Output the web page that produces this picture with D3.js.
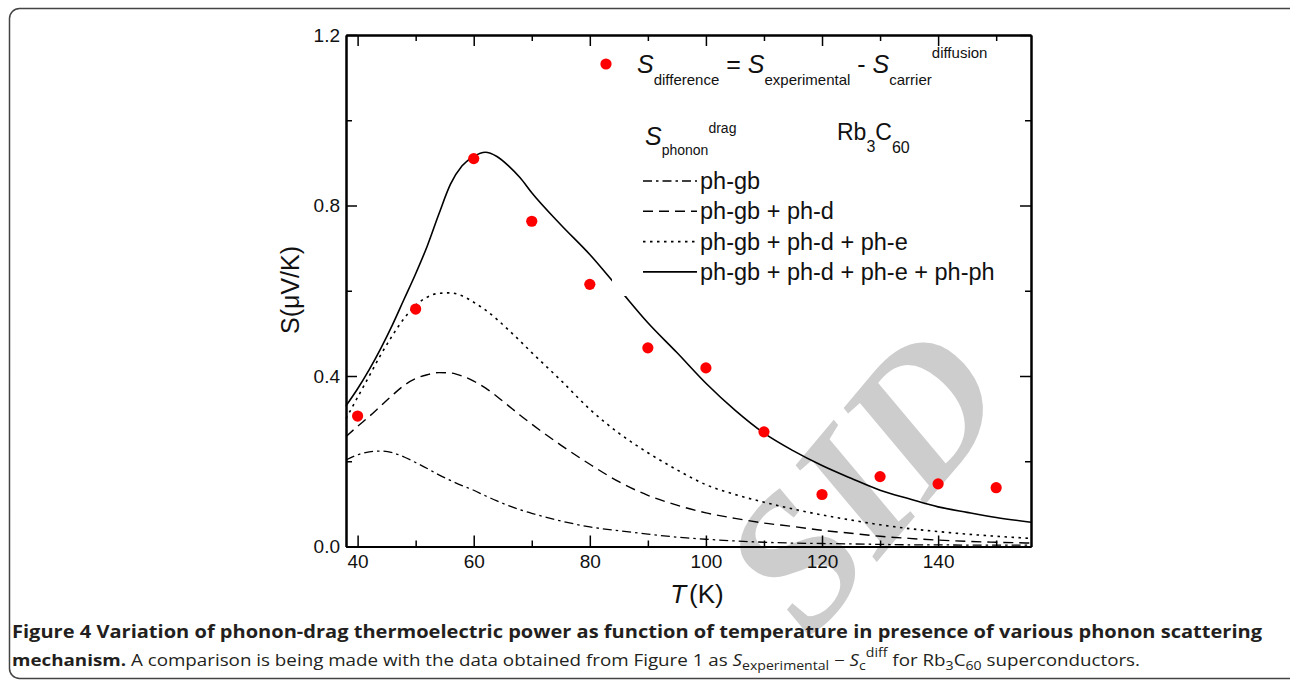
<!DOCTYPE html>
<html>
<head>
<meta charset="utf-8">
<script src="https://cdn.jsdelivr.net/npm/d3@7"></script>
<style>
  body { margin: 0; background: #fff; }
  svg { display: block; font-family: "Liberation Sans", Arial, sans-serif; }
  .axis path, .axis line { stroke: #000; }
  .axis path { stroke-width: 2; }
  .axis line { stroke-width: 1.5; }
  .axis text { font-size: 19px; fill: #111; font-family: "Liberation Sans", Arial, sans-serif; }
</style>
</head>
<body>
<div id="chart"></div>
<script>
// measured points, S_difference (uV/K)
const tempK = [40, 50, 60, 70, 80, 90, 100, 110, 120, 130, 140, 150]
const sDifference = [0.306, 0.557, 0.910, 0.763, 0.615, 0.466, 0.419, 0.269, 0.122, 0.164, 0.147, 0.138]

// curves
const curveT = [38, 40, 42, 44, 46, 48, 50, 52, 54, 56, 58, 60, 62, 64, 66, 68, 70, 75, 80, 85, 90, 95, 100, 105, 110, 115, 120, 125, 130, 135, 140, 145, 150, 156]
const phGb = [0.203, 0.215, 0.222, 0.224, 0.220, 0.210, 0.197, 0.183, 0.168, 0.155, 0.143, 0.132, 0.119, 0.107, 0.096, 0.086, 0.078, 0.060, 0.046, 0.037, 0.029, 0.022, 0.017, 0.013, 0.010, 0.008, 0.007, 0.006, 0.005, 0.004, 0.004, 0.003, 0.003, 0.003]
const phGbD = [0.258, 0.282, 0.305, 0.330, 0.355, 0.378, 0.394, 0.403, 0.408, 0.407, 0.400, 0.388, 0.372, 0.352, 0.330, 0.308, 0.287, 0.238, 0.193, 0.152, 0.120, 0.097, 0.079, 0.066, 0.055, 0.047, 0.038, 0.031, 0.024, 0.019, 0.015, 0.012, 0.010, 0.008]
const phGbDE = [0.300, 0.350, 0.400, 0.450, 0.495, 0.535, 0.566, 0.585, 0.594, 0.595, 0.588, 0.573, 0.555, 0.533, 0.508, 0.482, 0.455, 0.390, 0.322, 0.266, 0.220, 0.180, 0.145, 0.122, 0.104, 0.088, 0.074, 0.062, 0.051, 0.042, 0.035, 0.029, 0.024, 0.019]
const phGbDEPh = [0.330, 0.370, 0.415, 0.465, 0.520, 0.580, 0.640, 0.705, 0.780, 0.850, 0.893, 0.915, 0.925, 0.915, 0.893, 0.865, 0.830, 0.755, 0.685, 0.605, 0.525, 0.455, 0.383, 0.320, 0.266, 0.225, 0.190, 0.160, 0.132, 0.112, 0.093, 0.080, 0.068, 0.057]

const xTicks = [40, 60, 80, 100, 120, 140]
const xMinor = [50, 70, 90, 110, 130, 150]
const yTicks = [0, 0.4, 0.8, 1.2]
const yMinor = [0.2, 0.6, 1.0]
const legendLabels = ['ph-gb', 'ph-gb + ph-d', 'ph-gb + ph-d + ph-e', 'ph-gb + ph-d + ph-e + ph-ph']

const w = 1290
const h = 683
const pLeft = 346, pRight = 1031, pTop = 35, pBottom = 546.5

const series = [
  { vals: phGb, dash: '9,4,2.5,4', width: 1.3 },
  { vals: phGbD, dash: '10,6', width: 1.4 },
  { vals: phGbDE, dash: '2.5,4.5', width: 1.6 },
  { vals: phGbDEPh, dash: null, width: 1.6 }
]

const xScale = d3.scaleLinear().domain([38, 156]).range([pLeft, pRight])
const yScale = d3.scaleLinear().domain([0, 1.2]).range([pBottom, pTop])

const svg = d3.select('#chart').append('svg')
              .attr('width', w)
              .attr('height', h)

// watermark behind everything
svg.append('text')
   .attr('transform', 'translate(912,520) rotate(-50)')
   .attr('text-anchor', 'middle')
   .style('font-family', '"Liberation Serif", "DejaVu Serif", serif')
   .style('font-style', 'italic')
   .style('font-weight', 'bold')
   .style('font-size', '190px')
   .style('fill', '#cdcdcd')
   .text('SID')

// frame
svg.append('rect')
   .attr('x', 9.5).attr('y', 8.5)
   .attr('width', 1300).attr('height', 670)
   .attr('rx', 10)
   .attr('fill', 'none')
   .attr('stroke', '#444')
   .attr('stroke-width', 1.5)

const line = d3.line()
               .x((d, i) => xScale(curveT[i]))
               .y(d => yScale(d))
               .curve(d3.curveMonotoneX)

svg.append('g')
   .selectAll('path')
   .data(series)
   .enter()
   .append('path')
   .attr('d', d => line(d.vals))
   .attr('fill', 'none')
   .attr('stroke', '#000')
   .attr('stroke-width', d => d.width)
   .attr('stroke-dasharray', d => d.dash)

// white legend box cuts the solid curve
svg.append('rect')
   .attr('x', 612).attr('y', 150)
   .attr('width', 395).attr('height', 146)
   .attr('fill', '#fff')

svg.selectAll('circle.pt')
   .data(tempK)
   .enter()
   .append('circle')
   .attr('class', 'pt')
   .attr('cx', d => xScale(d))
   .attr('cy', (d, i) => yScale(sDifference[i]))
   .attr('r', 5.6)
   .attr('fill', '#ff0000')

// axes, ticks pointing inward
const fmtY = d3.format('.1f')
svg.append('g').attr('class', 'axis')
   .attr('transform', 'translate(0,' + pBottom + ')')
   .call(d3.axisBottom(xScale).tickValues(xTicks).tickSize(-11).tickSizeOuter(0).tickPadding(8))
svg.append('g').attr('class', 'axis')
   .attr('transform', 'translate(0,' + pBottom + ')')
   .call(d3.axisBottom(xScale).tickValues(xMinor).tickSize(-6).tickSizeOuter(0).tickFormat(''))
svg.append('g').attr('class', 'axis')
   .attr('transform', 'translate(0,' + pTop + ')')
   .call(d3.axisTop(xScale).tickValues(xTicks).tickSize(-11).tickSizeOuter(0).tickFormat(''))
svg.append('g').attr('class', 'axis')
   .attr('transform', 'translate(0,' + pTop + ')')
   .call(d3.axisTop(xScale).tickValues(xMinor).tickSize(-6).tickSizeOuter(0).tickFormat(''))
svg.append('g').attr('class', 'axis')
   .attr('transform', 'translate(' + pLeft + ',0)')
   .call(d3.axisLeft(yScale).tickValues(yTicks).tickSize(-11).tickSizeOuter(0).tickPadding(6).tickFormat(fmtY))
svg.append('g').attr('class', 'axis')
   .attr('transform', 'translate(' + pLeft + ',0)')
   .call(d3.axisLeft(yScale).tickValues(yMinor).tickSize(-6).tickSizeOuter(0).tickFormat(''))
svg.append('g').attr('class', 'axis')
   .attr('transform', 'translate(' + pRight + ',0)')
   .call(d3.axisRight(yScale).tickValues(yTicks).tickSize(-11).tickSizeOuter(0).tickFormat(''))
svg.append('g').attr('class', 'axis')
   .attr('transform', 'translate(' + pRight + ',0)')
   .call(d3.axisRight(yScale).tickValues(yMinor).tickSize(-6).tickSizeOuter(0).tickFormat(''))

// axis titles
const xt = svg.append('text')
   .attr('x', 697).attr('y', 603)
   .attr('text-anchor', 'middle')
   .style('font-size', '26px')
   .style('fill', '#111')
xt.append('tspan').style('font-style', 'italic').text('T')
xt.append('tspan').attr('dx', 3).text('(K)')

svg.append('text')
   .attr('transform', 'translate(299,290) rotate(-90)')
   .attr('text-anchor', 'middle')
   .style('font-size', '25px')
   .style('fill', '#111')
   .text('S(\u03bcV/K)')

// legend
svg.append('circle')
   .attr('cx', 606).attr('cy', 64).attr('r', 5.6)
   .attr('fill', '#ff0000')

const l1 = svg.append('text').attr('x', 637).attr('y', 73).style('fill', '#111')
l1.append('tspan').style('font-style', 'italic').style('font-size', '25px').text('S')
l1.append('tspan').attr('dy', 12).style('font-size', '15px').text('difference')
l1.append('tspan').attr('dy', -12).style('font-size', '25px').text(' = ')
l1.append('tspan').style('font-style', 'italic').style('font-size', '25px').text('S')
l1.append('tspan').attr('dy', 12).style('font-size', '15px').text('experimental')
l1.append('tspan').attr('dy', -12).style('font-size', '25px').text(' - ')
l1.append('tspan').style('font-style', 'italic').style('font-size', '25px').text('S')
l1.append('tspan').attr('dy', 12).style('font-size', '15px').text('carrier')
l1.append('tspan').attr('dy', -27).style('font-size', '15px').text('diffusion')

const l2 = svg.append('text').attr('x', 645).attr('y', 145).style('fill', '#111')
l2.append('tspan').style('font-style', 'italic').style('font-size', '25px').text('S')
l2.append('tspan').attr('dy', 10).style('font-size', '14px').text('phonon')
l2.append('tspan').attr('dy', -22).style('font-size', '14px').text('drag')

const l3 = svg.append('text').attr('x', 837).attr('y', 140).style('fill', '#111')
l3.append('tspan').style('font-size', '23px').text('Rb')
l3.append('tspan').attr('dy', 12).style('font-size', '16px').text('3')
l3.append('tspan').attr('dy', -12).style('font-size', '23px').text('C')
l3.append('tspan').attr('dy', 13).style('font-size', '16px').text('60')

const rows = svg.append('g')
                .selectAll('g')
                .data(series)
                .enter()
                .append('g')
                .attr('transform', (d, i) => 'translate(0,' + (181 + i * 30.3) + ')')
rows.append('line')
    .attr('x1', 643).attr('x2', 697)
    .attr('stroke', '#000')
    .attr('stroke-width', d => d.width)
    .attr('stroke-dasharray', d => d.dash)
rows.append('text')
    .attr('x', 700).attr('y', 8)
    .style('font-size', '23.5px')
    .style('fill', '#111')
    .text((d, i) => legendLabels[i])

// caption
svg.append('text')
   .attr('x', 12).attr('y', 638)
   .attr('textLength', 1250)
   .attr('lengthAdjust', 'spacingAndGlyphs')
   .style('font-family', '"Open Sans", sans-serif')
   .style('font-weight', 'bold')
   .style('font-size', '17px')
   .style('fill', '#231f20')
   .text('Figure 4 Variation of phonon-drag thermoelectric power as function of temperature in presence of various phonon scattering')

const cap2 = svg.append('text')
   .attr('x', 12).attr('y', 666)
   .attr('textLength', 1128)
   .attr('lengthAdjust', 'spacingAndGlyphs')
   .style('font-family', '"Open Sans", sans-serif')
   .style('font-size', '16px')
   .style('fill', '#231f20')
cap2.append('tspan').style('font-weight', 'bold').text('mechanism.')
cap2.append('tspan').text(' A comparison is being made with the data obtained from Figure 1 as ')
cap2.append('tspan').style('font-style', 'italic').text('S')
cap2.append('tspan').attr('dy', 4).style('font-size', '12px').text('experimental')
cap2.append('tspan').attr('dy', -4).text(' \u2212 ')
cap2.append('tspan').style('font-style', 'italic').text('S')
cap2.append('tspan').attr('dy', 4).style('font-size', '12px').text('c')
cap2.append('tspan').attr('dy', -13).style('font-size', '12px').text('diff')
cap2.append('tspan').attr('dy', 9).text(' for Rb')
cap2.append('tspan').attr('dy', 4).style('font-size', '12px').text('3')
cap2.append('tspan').attr('dy', -4).text('C')
cap2.append('tspan').attr('dy', 4).style('font-size', '12px').text('60')
cap2.append('tspan').attr('dy', -4).text(' superconductors.')
</script>
</body>
</html>
